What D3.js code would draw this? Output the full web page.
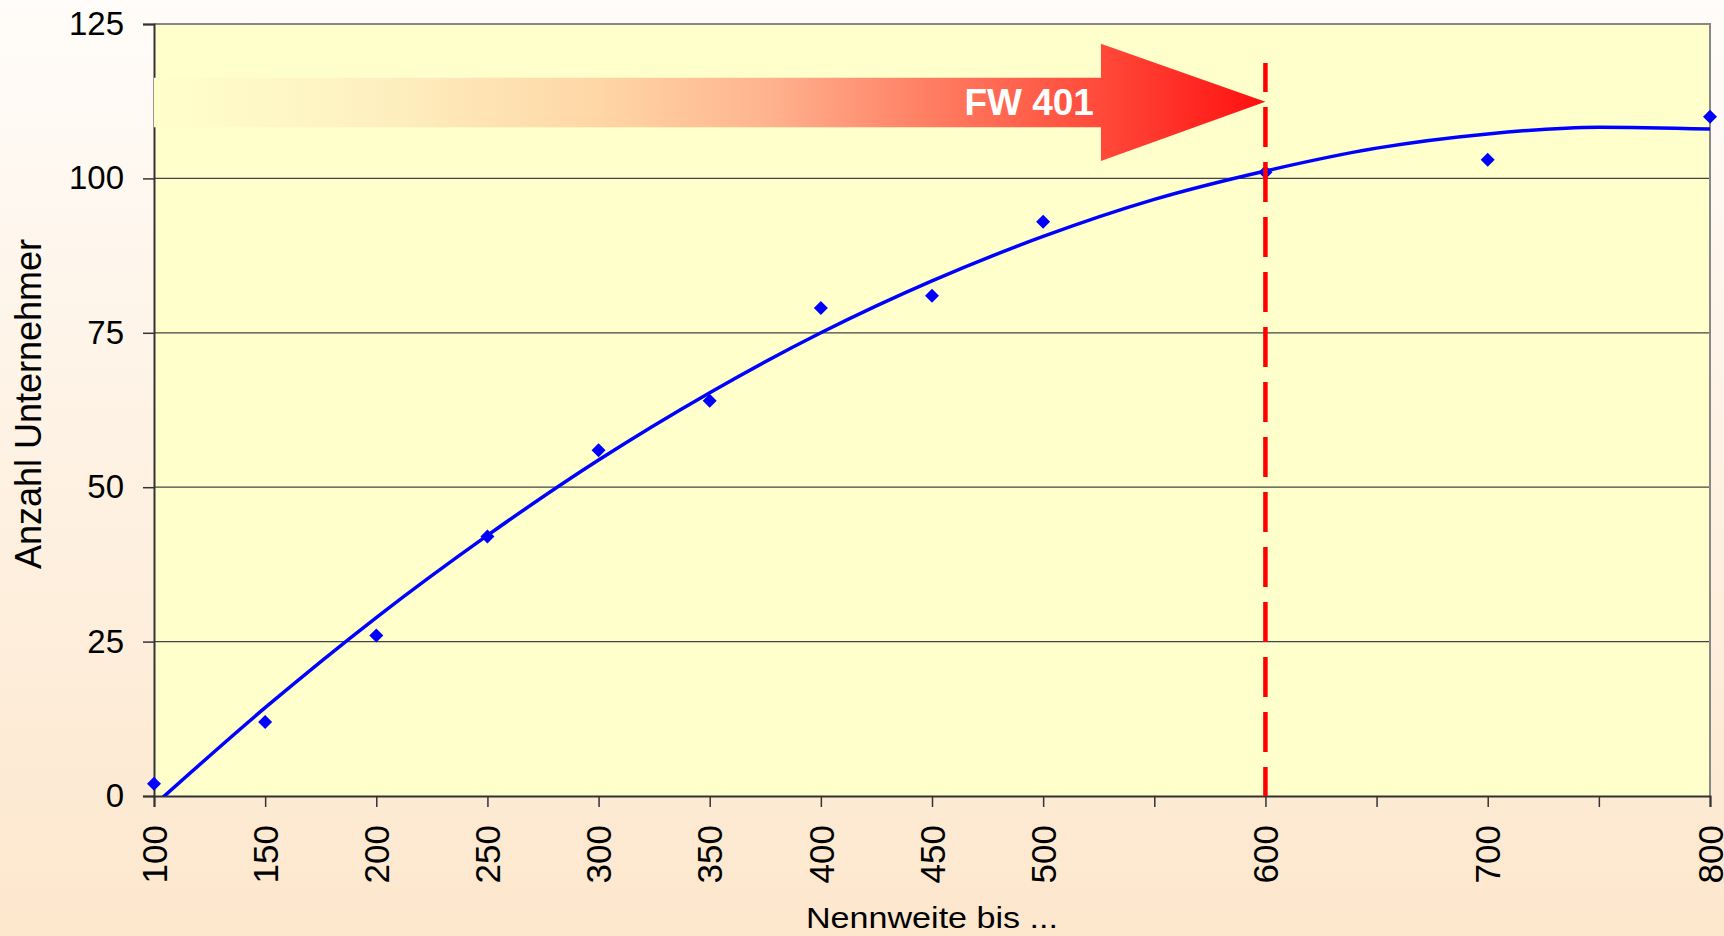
<!DOCTYPE html>
<html>
<head>
<meta charset="utf-8">
<script src="https://cdn.jsdelivr.net/npm/d3@7"></script>
<style>
  html, body { margin: 0; padding: 0; }
  body { width: 1724px; height: 936px; overflow: hidden; }
  text { font-family: "Liberation Sans", Arial, sans-serif; fill: #000; }
</style>
</head>
<body>
<div id="chart"></div>
<script>
// Nennweite categories (x) and labels shown under the ticks
var categories = [100, 150, 200, 250, 300, 350, 400, 450, 500, 550, 600, 650, 700, 750, 800];
var tickLabels = ['100', '150', '200', '250', '300', '350', '400', '450', '500', '', '600', '', '700', '', '800'];

// Anzahl Unternehmer (diamonds), null = no value
var counts = [2, 12, 26, 42, 56, 64, 79, 81, 93, null, 101, null, 103, null, 110];

// trend line
var trend = [-1.5, 14.3, 28.9, 42.2, 54.4, 65.3, 75.0, 83.4, 90.6, 96.6, 101.2, 104.9, 107.2, 108.3, 108.0];

var yTicks = [0, 25, 50, 75, 100, 125];

// FW 401 marker
var markerCategory = 600;
var arrowLabel = 'FW 401';

var width = 1724;
var height = 936;
var margin = { top: 24, right: 14, bottom: 140, left: 154 };

var svg = d3.select('#chart')
  .append('svg')
  .attr('width', width)
  .attr('height', height);

var defs = svg.append('defs');

var bg = defs.append('linearGradient')
  .attr('id', 'bg')
  .attr('x1', 0).attr('y1', 0)
  .attr('x2', 0).attr('y2', 1);
bg.append('stop').attr('offset', 0).attr('stop-color', '#fffcf9');
bg.append('stop').attr('offset', 1).attr('stop-color', '#fde7cd');

svg.append('rect')
  .attr('width', width)
  .attr('height', height)
  .attr('fill', 'url(#bg)');

var x = d3.scalePoint()
  .domain(categories)
  .range([margin.left, width - margin.right]);

var y = d3.scaleLinear()
  .domain([0, 125])
  .range([height - margin.bottom, margin.top]);

var x0 = x.range()[0];
var x1 = x.range()[1];

defs.append('clipPath')
  .attr('id', 'plot-clip')
  .append('rect')
  .attr('x', x0)
  .attr('y', y(125))
  .attr('width', x1 - x0)
  .attr('height', y(0) - y(125));

// plot area
svg.append('rect')
  .attr('x', x0)
  .attr('y', y(125))
  .attr('width', x1 - x0)
  .attr('height', y(0) - y(125))
  .attr('fill', '#ffffcc');

// gridlines
svg.append('g')
  .selectAll('line')
  .data(yTicks.filter(function(d) { return d > 0 && d < 125; }))
  .enter()
  .append('line')
  .attr('x1', x0)
  .attr('x2', x1)
  .attr('y1', function(d) { return y(d); })
  .attr('y2', function(d) { return y(d); })
  .attr('stroke', '#444')
  .attr('stroke-width', 1.2);

// plot border top / right
svg.append('path')
  .attr('d', 'M' + x0 + ',' + y(125) + 'H' + x1 + 'V' + y(0))
  .attr('fill', 'none')
  .attr('stroke', '#888')
  .attr('stroke-width', 2);

// y axis
var yAxis = svg.append('g')
  .attr('transform', 'translate(' + x0 + ',0)')
  .call(d3.axisLeft(y).tickValues(yTicks).tickSize(11).tickPadding(19));
yAxis.select('.domain').attr('stroke', '#333').attr('stroke-width', 2);
yAxis.selectAll('.tick line').attr('stroke', '#333').attr('stroke-width', 1.5);
yAxis.selectAll('.tick text')
  .style('font-family', '"Liberation Sans", Arial, sans-serif')
  .style('font-size', '33px')
  .attr('fill', '#000');

// x axis
var xAxis = svg.append('g')
  .attr('transform', 'translate(0,' + y(0) + ')')
  .call(d3.axisBottom(x)
    .tickSize(11)
    .tickFormat(function(d, i) { return tickLabels[i]; }));
xAxis.select('.domain').attr('stroke', '#333').attr('stroke-width', 2);
xAxis.selectAll('.tick line').attr('stroke', '#333').attr('stroke-width', 1.5);
xAxis.selectAll('.tick text')
  .style('font-family', '"Liberation Sans", Arial, sans-serif')
  .style('font-size', '35px')
  .attr('fill', '#000')
  .attr('text-anchor', 'end')
  .attr('dy', '0.35em')
  .attr('transform', 'translate(0,29) rotate(-90)')
  .attr('x', 0)
  .attr('y', 0);

// axis titles
svg.append('text')
  .attr('x', (x0 + x1) / 2)
  .attr('y', 928)
  .attr('text-anchor', 'middle')
  .attr('textLength', 252)
  .attr('lengthAdjust', 'spacingAndGlyphs')
  .style('font-size', '30px')
  .text('Nennweite bis ...');

svg.append('text')
  .attr('transform', 'translate(41,' + 404 + ') rotate(-90)')
  .attr('text-anchor', 'middle')
  .style('font-size', '36px')
  .text('Anzahl Unternehmer');

// arrow
var arrowGrad = defs.append('linearGradient')
  .attr('id', 'arrow-grad')
  .attr('gradientUnits', 'userSpaceOnUse')
  .attr('x1', x0).attr('y1', 0)
  .attr('x2', x(markerCategory)).attr('y2', 0);
[[0, '#ffffcc'], [0.2, '#fef0c0'], [0.4, '#ffd6a6'], [0.55, '#ffb48f'],
 [0.7, '#ff7d62'], [0.85, '#ff4a3a'], [1, '#ff1010']].forEach(function(s) {
  arrowGrad.append('stop').attr('offset', s[0]).attr('stop-color', s[1]);
});

var headBase = x0 + (x(markerCategory) - x0) * 0.852;
var tipY = y(112.4);
var arrowPts = [
  [x0, y(116.3)],
  [headBase, y(116.3)],
  [headBase, y(121.8)],
  [x(markerCategory), tipY],
  [headBase, y(102.8)],
  [headBase, y(108.3)],
  [x0, y(108.3)]
];
svg.append('path')
  .attr('d', d3.line()(arrowPts) + 'Z')
  .attr('fill', 'url(#arrow-grad)');

svg.append('text')
  .attr('x', headBase - 7)
  .attr('y', tipY + 13)
  .attr('text-anchor', 'end')
  .style('font-size', '37px')
  .style('font-weight', 'bold')
  .style('fill', '#fff')
  .text(arrowLabel);

// trend line
var plot = svg.append('g').attr('clip-path', 'url(#plot-clip)');

var trendLine = d3.line()
  .x(function(d, i) { return x(categories[i]); })
  .y(function(d) { return y(d); })
  .curve(d3.curveMonotoneX);

plot.append('path')
  .datum(trend)
  .attr('d', trendLine)
  .attr('fill', 'none')
  .attr('stroke', '#0000ff')
  .attr('stroke-width', 3.5);

// diamonds
var points = categories.map(function(c, i) { return { c: c, v: counts[i] }; })
  .filter(function(d) { return d.v !== null; });

svg.append('g')
  .selectAll('path')
  .data(points)
  .enter()
  .append('path')
  .attr('transform', function(d) { return 'translate(' + x(d.c) + ',' + y(d.v) + ')'; })
  .attr('d', 'M0,-7L7,0L0,7L-7,0Z')
  .attr('fill', '#0000ff');

// dashed marker line
svg.append('line')
  .attr('x1', x(markerCategory))
  .attr('x2', x(markerCategory))
  .attr('y1', y(118.7))
  .attr('y2', y(0))
  .attr('stroke', '#ff0000')
  .attr('stroke-width', 4.5)
  .attr('stroke-dasharray', '29,15,40,15,40,15,40,15,40,15,40,15,40,15,40,15,40,15,40,15,40,15,40,15,40,15,40,15,40,15,40,15,40,15');
</script>
</body>
</html>
